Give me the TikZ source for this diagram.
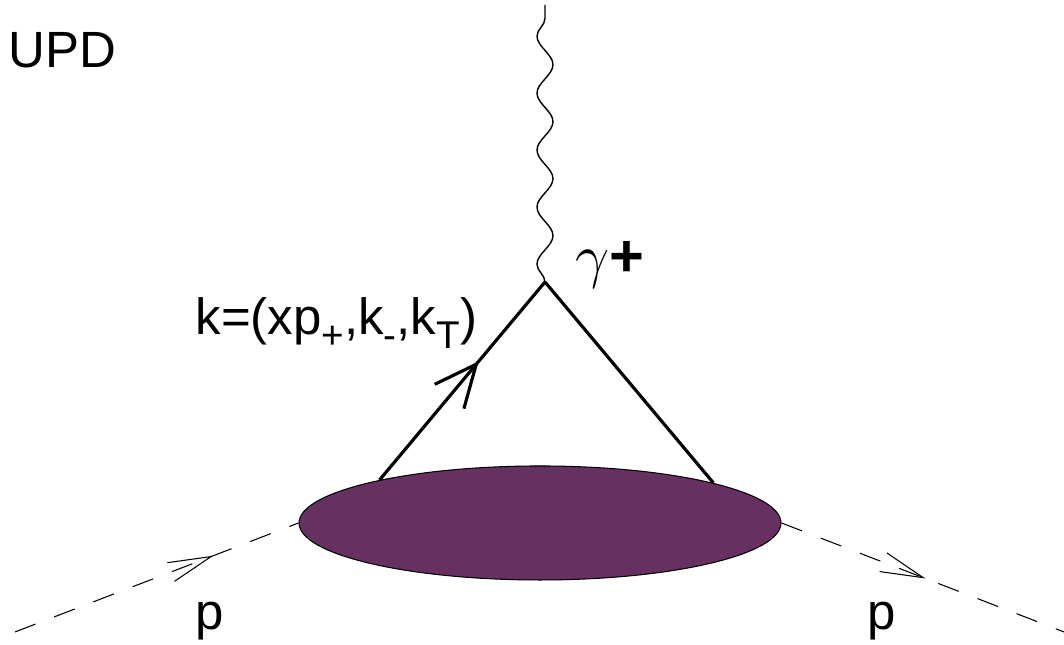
\documentclass[tikz,border=0pt]{standalone}
\usepackage{fontspec}
\setmainfont{Liberation Sans}
\usepackage{xcolor}
\usetikzlibrary{arrows.meta, shapes.geometric, decorations.pathmorphing, decorations.markings}
\definecolor{blobpurple}{RGB}{102,48,96}
\newcommand{\lowsub}[1]{\raisebox{-0.5ex}{\fontsize{11}{13}\selectfont #1}}

\begin{document}
\begin{tikzpicture}[font=\fontsize{14.5}{17}\selectfont,
        label/.style={inner sep=0pt, anchor=base west},
        photon/.style={line width=0.4pt, decorate, decoration={snake, segment length=5.7mm, amplitude=0.8mm}},
        quark/.style={line width=0.9pt, postaction={decorate, decoration={markings,
            mark=at position #1 with {\arrow{Straight Barb[length=4.2mm, width=3.8mm, line width=0.9pt]}}}}},
        proton/.style={line width=0.3pt, dash pattern=on 2.2mm off 2mm, postaction={decorate, decoration={markings,
            mark=at position #1 with {\arrow{Straight Barb[length=4.3mm, width=2mm, line width=0.3pt]}}}}}]

        \useasboundingbox (0,0) rectangle (10.64,6.45);

        \node[ellipse, draw, line width=0.3pt, fill=blobpurple, minimum width=4.82cm, minimum height=1.14cm, inner sep=0pt] (blob) at (5.40,1.22) {};
        \coordinate (vtx) at (5.45,3.63);
        \coordinate (top) at (5.45,6.40);
        \coordinate (pin) at (0.15,0.13);
        \coordinate (pout) at (10.64,0.13);

        \node[label] (upd) at (0.08,5.77) {UPD};
        \node[label] (kmom) at (1.95,3.10) {k=(xp\lowsub{+},k\lowsub{-},k\lowsub{T})};
        \node[label] (gam) at (5.75,3.68) {\fontsize{17}{19}\selectfont$\gamma$\textbf{+}};
        \node[label] (pleft) at (1.95,0.15) {p};
        \node[label] (pright) at (8.67,0.15) {p};

        \path
        (vtx) edge[photon] (top)
        (blob.165) edge[quark=0.6] (vtx)
        (vtx) edge[line width=0.9pt] (blob.13)
        (pin) edge[proton=0.7] (blob.west)
        (blob.east) edge[proton=0.51] (pout);

    \end{tikzpicture}
\end{document}
